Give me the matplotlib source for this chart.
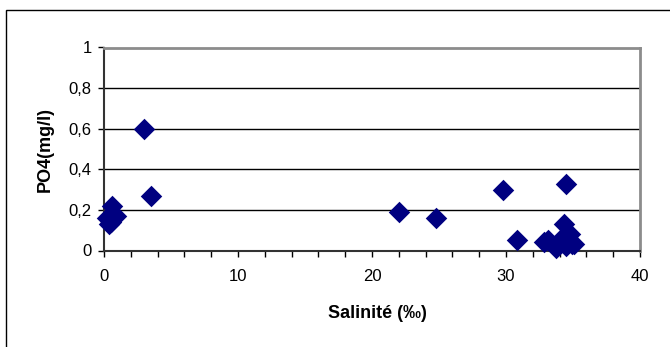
import numpy as np
import matplotlib.pyplot as plt
from matplotlib.ticker import MultipleLocator, FuncFormatter
from matplotlib.patches import Rectangle

plt.rcParams['font.family'] = ['Liberation Sans', 'DejaVu Sans']

# Salinité vs phosphate
salinite = [0.2, 0.5, 0.6, 0.9, 0.4, 3.0, 3.5, 22.0, 24.8, 29.8, 30.8,
            32.8, 33.1, 33.7, 34.0, 34.3, 34.5, 34.5, 34.8, 35.1, 34.9, 34.2]
po4 = [0.16, 0.14, 0.22, 0.17, 0.13, 0.60, 0.27, 0.19, 0.16, 0.30, 0.05,
       0.04, 0.05, 0.01, 0.05, 0.13, 0.33, 0.02, 0.08, 0.03, 0.03, 0.04]

W, H = 670, 347
fig = plt.figure(figsize=(W / 100, H / 100), dpi=100)
ax = fig.add_axes([104 / W, 1 - 250.5 / H, 536 / W, 203 / H])

ax.scatter(salinite, po4, marker='D', s=120, color='#000080', zorder=3,
           clip_on=False, linewidths=0)

ax.set_xlim(0, 40)
ax.set_ylim(0, 1)
ax.xaxis.set_major_locator(MultipleLocator(10))
ax.xaxis.set_minor_locator(MultipleLocator(2))
ax.yaxis.set_major_locator(MultipleLocator(0.2))


def fr_fmt(v, pos):
    s = f'{v:.1f}'.replace('.', ',')
    return s[:-2] if s.endswith(',0') else s


ax.yaxis.set_major_formatter(FuncFormatter(fr_fmt))

ax.grid(axis='y', color='black', linewidth=1)
ax.set_axisbelow(True)
for side in ('top', 'right'):
    ax.spines[side].set_color('#8c8c8c')
    ax.spines[side].set_linewidth(2)
for side in ('left', 'bottom'):
    ax.spines[side].set_color('#333333')
    ax.spines[side].set_linewidth(1.5)
ax.tick_params(axis='both', which='both', direction='out', length=4,
               width=1, labelsize=12, colors='black')
ax.tick_params(axis='x', which='both', pad=9)
ax.tick_params(axis='y', pad=5)

fig.text(377 / W, 1 - 313 / H, 'Salinité (‰)', fontsize=13, fontweight='bold',
         ha='center', va='center')
fig.text(45 / W, 1 - 149 / H, 'PO4(mg/l)', fontsize=13, fontweight='bold',
         ha='center', va='center', rotation=90)

# outer frame of the chart area
fig.patches.append(Rectangle((6 / W, -0.01), 1, 1 - 10 / H + 0.01,
                             transform=fig.transFigure, fill=False,
                             edgecolor='black', linewidth=1))

fig.savefig('out.png', dpi=100)
